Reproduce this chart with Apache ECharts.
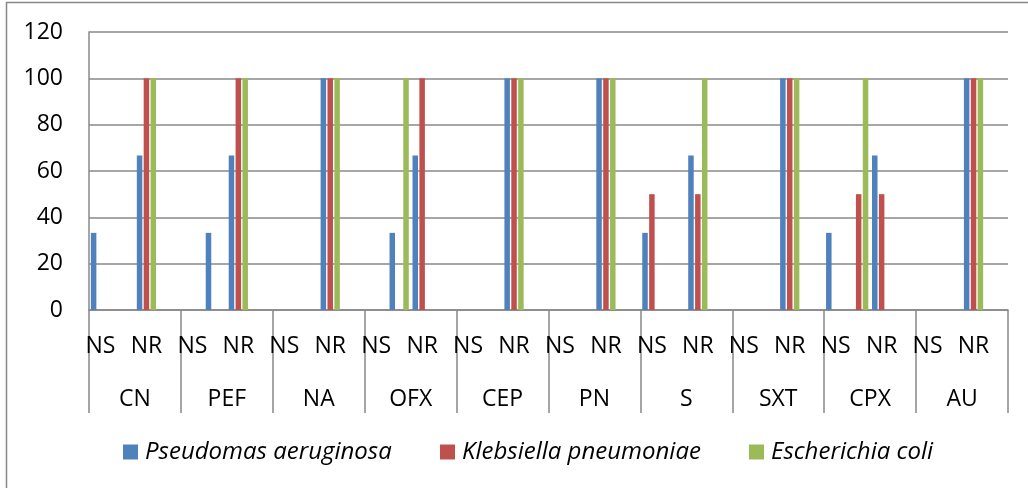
<!DOCTYPE html>
<html>
<head>
<meta charset="utf-8">
<script src="https://cdn.jsdelivr.net/npm/echarts@6/dist/echarts.min.js"></script>
<style>html,body{margin:0;padding:0;background:#fff;}#c{width:1028px;height:488px;}</style>
</head>
<body>
<div id="c"></div>
<script>
// Groups (outer category level)
const groups = ["CN","PEF","NA","OFX","CEP","PN","S","SXT","CPX","AU"];
// Inner category level: each group has 4 rows (NS, blank, NR, blank)
const innerLabels = ["NS","","NR",""];
const seriesNames = ["Pseudomas aeruginosa","Klebsiella pneumoniae","Escherichia coli"];
// Values per group, 4 rows each: [NS, blank row, NR, blank row]
const pseudomonas = [
  33.3,0,66.7,0,   // CN
  0,33.3,66.7,0,   // PEF
  0,0,100,0,       // NA
  0,33.3,66.7,0,   // OFX
  0,0,100,0,       // CEP
  0,0,100,0,       // PN
  33.3,0,66.7,0,   // S
  0,0,100,0,       // SXT
  33.3,0,66.7,0,   // CPX
  0,0,100,0        // AU
];
const klebsiella = [
  0,0,100,0,
  0,0,100,0,
  0,0,100,0,
  0,0,100,0,
  0,0,100,0,
  0,0,100,0,
  50,0,50,0,
  0,0,100,0,
  0,50,50,0,
  0,0,100,0
];
const ecoli = [
  0,0,100,0,
  0,0,100,0,
  0,0,100,0,
  0,100,0,0,
  0,0,100,0,
  0,0,100,0,
  0,0,100,0,
  0,0,100,0,
  0,100,0,0,
  0,0,100,0
];
const yTicks = {min:0, max:120, interval:20};

const innerCats = [];
groups.forEach(g => innerLabels.forEach(l => innerCats.push(l)));

const FONT = "'Open Sans', 'Noto Sans', sans-serif";
const FS = 23;
const GRAY = "#888888";
const colors = ["#4F81BD","#C0504D","#9BBB59"];
const values = [pseudomonas, klebsiella, ecoli];
const legendLefts = [123, 440, 749];

const chart = echarts.init(document.getElementById('c'), null, {renderer:'canvas'});
chart.setOption({
  animation:false,
  backgroundColor:'#ffffff',
  color: colors,
  textStyle:{fontFamily:FONT},
  graphic:[{
    type:'rect', shape:{x:6.5,y:2.5,width:1100,height:600},
    style:{fill:'none', stroke:GRAY, lineWidth:1.5}, silent:true, z:-10
  }],
  grid:{left:89, right:20, top:32, bottom:178, containLabel:false},
  legend: seriesNames.map((n,i)=>({
    data:[n],
    left:legendLefts[i], top:440, padding:0,
    itemWidth:15, itemHeight:15,
    icon:'rect',
    textStyle:{fontFamily:FONT, fontSize:24, fontStyle:'italic', color:'#000', padding:[0,0,0,2]}
  })),
  xAxis:[{
    type:'category', data: innerCats, position:'bottom',
    axisLine:{show:true, lineStyle:{color:GRAY, width:1.5}},
    axisTick:{show:false},
    axisLabel:{interval:0, margin:25, fontSize:FS, color:'#000', fontFamily:FONT},
    splitLine:{show:false}
  },{
    type:'category', data: groups, position:'bottom',
    axisLine:{show:false},
    axisTick:{show:true, interval:0, length:103, lineStyle:{color:GRAY, width:1.5}},
    axisLabel:{interval:0, margin:78, fontSize:FS, color:'#000', fontFamily:FONT},
    splitLine:{show:false}
  }],
  yAxis:{
    type:'value', min:yTicks.min, max:yTicks.max, interval:yTicks.interval,
    axisLine:{show:true, lineStyle:{color:GRAY, width:1.5}},
    axisTick:{show:false},
    axisLabel:{margin:26, fontSize:FS, color:'#000', fontFamily:FONT},
    splitLine:{show:true, lineStyle:{color:GRAY, width:1.5}}
  },
  series: seriesNames.map((n,i)=>({
    name:n, type:'bar', xAxisIndex:0, data: values[i],
    barWidth:5.5, barGap:'25%',
    itemStyle:{color:colors[i]}
  }))
});
</script>
</body>
</html>
